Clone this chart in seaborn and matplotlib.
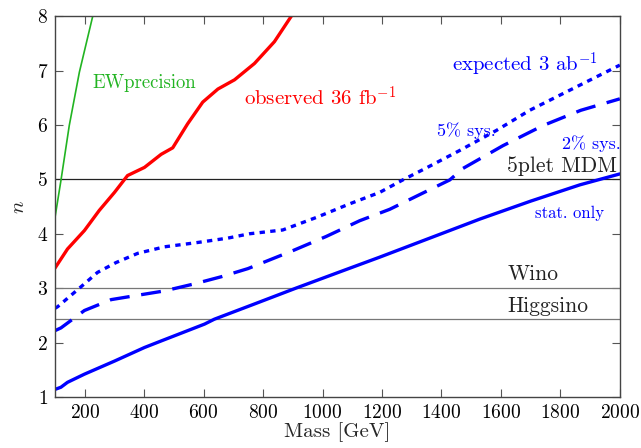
import numpy as np
import pandas as pd
import seaborn as sns
import matplotlib.pyplot as plt

# values
ew_mass = [100, 120, 148, 182, 227]
ew_n = [4.30, 4.98, 5.99, 6.97, 8.0]

obs_mass = [100, 142, 199, 249, 300, 344, 401, 457, 496, 546, 597, 648, 704, 771, 838, 895]
obs_n = [3.37, 3.72, 4.06, 4.43, 4.76, 5.07, 5.22, 5.46, 5.58, 6.02, 6.42, 6.66, 6.83, 7.13, 7.53, 8.0]

sys5_mass = [100, 109, 182, 243, 305, 378, 468, 580, 681, 754, 866, 979, 1091, 1192, 1270, 1349,
             1461, 1585, 1697, 1832, 2000]
sys5_n = [2.63, 2.66, 3.0, 3.29, 3.47, 3.64, 3.76, 3.84, 3.92, 4.0, 4.07, 4.30, 4.55, 4.76, 4.99, 5.21,
          5.53, 5.90, 6.27, 6.64, 7.10]

sys2_mass = [100, 120, 199, 289, 378, 468, 569, 659, 749, 900, 1012, 1125, 1226, 1338, 1428,
             1472, 1607, 1742, 1869, 2000]
sys2_n = [2.22, 2.27, 2.59, 2.79, 2.87, 2.95, 3.08, 3.21, 3.36, 3.69, 3.95, 4.24, 4.45, 4.75, 4.99,
          5.20, 5.62, 5.99, 6.27, 6.48]

stat_mass = [100, 120, 142, 199, 300, 401, 457, 603, 636, 771, 910, 1068, 1192, 1428, 1529, 1700, 1866, 2000]
stat_n = [1.14, 1.18, 1.27, 1.42, 1.66, 1.91, 2.03, 2.34, 2.43, 2.71, 3.0, 3.32, 3.57, 4.06, 4.27, 4.6, 4.9, 5.1]

ref_levels = [5.0, 3.0, 2.43]
ref_names = ['5plet MDM', 'Wino', 'Higgsino']

sns.set_theme(style="ticks")
plt.rcParams['font.family'] = ['cmr10', 'DejaVu Serif']
plt.rcParams['mathtext.fontset'] = 'cm'
plt.rcParams['axes.formatter.use_mathtext'] = True

fig = plt.figure(figsize=(6.41, 4.48), dpi=100)
ax = fig.add_axes([0.0858, 0.1138, 0.8812, 0.8502])

for lvl, col in zip(ref_levels, ['#222222', '#777777', '#777777']):
    ax.axhline(lvl, color=col, lw=0.9, zorder=1)

sns.lineplot(x=ew_mass, y=ew_n, color='#22b422', lw=1.2, ax=ax)
sns.lineplot(x=obs_mass, y=obs_n, color='red', lw=2.4, ax=ax)
sns.lineplot(x=stat_mass, y=stat_n, color='blue', lw=2.4, ax=ax)
sns.lineplot(x=sys2_mass, y=sys2_n, color='blue', lw=2.4, ax=ax)
ax.lines[-1].set_dashes((6, 3.5))
sns.lineplot(x=sys5_mass, y=sys5_n, color='blue', lw=2.4, ax=ax)
ax.lines[-1].set_dashes((1.6, 1.6))

ax.text(225, 6.77, 'EWprecision', color='#22b422', fontsize=13.5, va='center')
ax.text(735, 6.5, r'observed 36 fb$^{-1}$', color='red', fontsize=15, va='center')
ax.text(1437, 7.1, r'expected 3 ab$^{-1}$', color='blue', fontsize=15, va='center')
ax.text(1386, 5.9, '5% sys.', color='blue', fontsize=13, va='center')
ax.text(1807, 5.66, '2% sys.', color='blue', fontsize=13, va='center')
ax.text(1715, 4.37, 'stat. only', color='blue', fontsize=12, va='center')
for lvl, name, yy in zip(ref_levels, ref_names, [5.24, 3.25, 2.67]):
    ax.text(1622, yy, name, color='#222222', fontsize=15.5, va='center')

ax.set_xlim(100, 2000)
ax.set_ylim(1, 8)
ax.set_xticks(range(200, 2001, 200))
ax.set_yticks(range(1, 9))
ax.tick_params(direction='in', top=True, right=True, labelsize=14, length=6, width=0.8,
               colors='#555555', labelcolor='black', pad=5)
for s in ax.spines.values():
    s.set_color('#444444')
    s.set_linewidth(1.0)
ax.set_xlabel('Mass [GeV]', fontsize=15, labelpad=0)
ax.set_ylabel(r'$n$', fontsize=15, labelpad=6)

fig.savefig('out.png', dpi=100)
